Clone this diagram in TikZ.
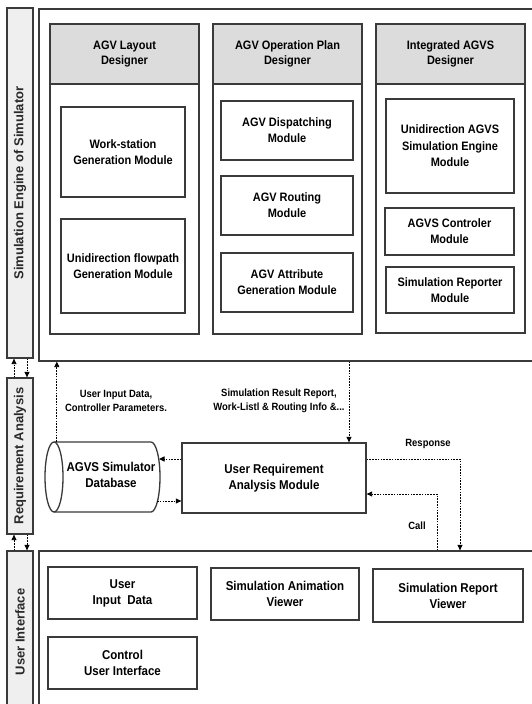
\documentclass[tikz,border=0pt]{standalone}
\usepackage{fontspec}
\setmainfont[FakeStretch=0.9]{Liberation Sans}
\newfontfamily\sidefont{Liberation Sans}
\usetikzlibrary{arrows.meta}
\definecolor{lc}{HTML}{3A3A3A}
\definecolor{barfill}{HTML}{EFEFEF}
\definecolor{headfill}{HTML}{DCDCDC}
\tikzset{
  ln/.style={draw=lc, line width=1.3pt},
  box/.style={ln, fill=white, rectangle, inner sep=0pt, align=center,
    font=\bfseries\fontsize{12.2}{16}\selectfont},
  bbox/.style={box, font=\bfseries\fontsize{12.8}{16}\selectfont},
  column/.style={ln, fill=white, rectangle, inner sep=0pt, minimum width=149, minimum height=310},
  header/.style={ln, fill=headfill, rectangle, inner sep=0pt, align=center,
    minimum width=149, minimum height=60, font=\bfseries\fontsize{12.2}{15.5}\selectfont},
  sidebar/.style={ln, fill=barfill, rectangle, inner sep=0pt, minimum width=26},
  sidetext/.style={rotate=90, font=\sidefont\bfseries\fontsize{13}{15}\selectfont, text=lc!70!black},
  frame/.style={ln, fill=white, rectangle, inner sep=0pt},
  darr/.style={draw=black, line width=0.9pt, dash pattern=on 1.6pt off 1.2pt,
    -{Triangle[length=5.5pt,width=5pt]}},
  lbl/.style={font=\bfseries\fontsize{10.5}{14}\selectfont, align=center, inner sep=0pt},
}
\begin{document}
\begin{tikzpicture}[x=1pt,y=-1pt]
\useasboundingbox (0,0) rectangle (532,704);
\clip (0,0) rectangle (532,704);
\fill[white] (0,0) rectangle (532,704);

% side bars
\node[sidebar, minimum height=350] (sb1) at (20,183) {};
\node[sidetext] (sb1t) at (sb1.center) {Simulation Engine of Simulator};
\node[sidebar, minimum height=156] (sb2) at (20,456) {};
\node[sidetext] (sb2t) at (sb2.center) {Requirement Analysis};
\node[sidebar, minimum height=160] (sb3) at (20,631) {};
\node[sidetext] (sb3t) at (20,632) {User Interface};

% frames
\node[frame, minimum width=501, minimum height=352] (top) at (289.5,185) {};
\node[frame, minimum width=501, minimum height=160] (bot) at (289.5,631) {};

% columns
\node[column] (c1) at (124.5,179) {};
\node[header] (h1) at (124.5,54) {AGV Layout\\Designer};
\node[column] (c2) at (287.5,179) {};
\node[header] (h2) at (287.5,54) {AGV Operation Plan\\Designer};
\node[column, minimum height=309] (c3) at (450.5,178.5) {};
\node[header] (h3) at (450.5,54) {Integrated AGVS\\Designer};

% modules
\node[box, minimum width=124, minimum height=90] (ws) at (123,152) {Work-station\\Generation Module};
\node[box, minimum width=124, minimum height=94] (uf) at (123,266) {Unidirection flowpath\\Generation Module};
\node[box, minimum width=132, minimum height=59] (disp) at (287,130.5) {AGV Dispatching\\Module};
\node[box, minimum width=132, minimum height=59] (rout) at (287,205.5) {AGV Routing\\Module};
\node[box, minimum width=132, minimum height=59] (attr) at (287,282.5) {AGV Attribute\\Generation Module};
\node[box, minimum width=128, minimum height=94, font=\bfseries\fontsize{12.2}{16.5}\selectfont] (eng) at (450,146) {Unidirection AGVS\\Simulation Engine\\Module};
\node[box, minimum width=129, minimum height=47] (ctrl) at (449.5,231.5) {AGVS Controler\\Module};
\node[box, minimum width=128, minimum height=46] (rep) at (450,290) {Simulation Reporter\\Module};

% middle
\draw[ln, fill=white] (54,442) -- (151,442) arc[start angle=90, end angle=-90, x radius=9pt, y radius=35pt] -- (54,512);
\draw[ln, fill=white] (54,477) ellipse [x radius=9pt, y radius=35pt];
\node[rectangle, minimum width=115, minimum height=70, inner sep=0pt] (db) at (102.5,477) {};
\node[font=\bfseries\fontsize{12.8}{16}\selectfont, align=center, inner sep=0pt] (dbt) at (111,475) {AGVS Simulator\\Database};
\node[bbox, minimum width=184, minimum height=70] (urm) at (274,478) {User Requirement\\Analysis Module};

% bottom modules
\node[bbox, minimum width=149, minimum height=52] (uid) at (122.5,593) {User\\Input\ \ Data};
\node[bbox, minimum width=148, minimum height=52] (sav) at (285,594) {Simulation Animation\\Viewer};
\node[bbox, minimum width=150, minimum height=53] (srv) at (448,595.5) {Simulation Report\\Viewer};
\node[bbox, minimum width=149, minimum height=52] (cui) at (122.5,663) {Control\\User Interface};

% arrows between side bars
\draw[darr] ([xshift=-6pt]sb2.north) -- ([xshift=-6pt]sb1.south);
\draw[darr] ([xshift=7pt]sb1.south) -- ([xshift=7pt]sb2.north);
\draw[darr] ([xshift=-6pt]sb3.north) -- ([xshift=-6pt]sb2.south);
\draw[darr] ([xshift=7pt]sb2.south) -- ([xshift=7pt]sb3.north);

% labels
\node[lbl] (l1) at (116,401) {User Input Data,\\Controller Parameters.};
\node[lbl] (l2) at (279,401) {Simulation Result Report,\\Work-Listl \& Routing Info \&...};
\node[lbl] (l3) at (428,444) {Response};
\node[lbl] (l4) at (417,526) {Call};

% middle arrows
\coordinate (dbtop) at ([xshift=12pt]db.north west);
\draw[darr] (dbtop) -- (dbtop |- top.south);
\coordinate (urmtop) at ([xshift=75pt]urm.north);
\draw[darr] (urmtop |- top.south) -- (urmtop);
\coordinate (dbr1) at (159,459);
\coordinate (dbr2) at (157,501);
\draw[darr] ([yshift=19pt]urm.west) -- (dbr1);
\draw[darr] (dbr2) -- (dbr2 -| urm.west);
\coordinate (resp) at (460,459);
\draw[darr] ([yshift=19pt]urm.east) -- (resp) -- (resp |- bot.north);
\coordinate (callc) at (437,494);
\draw[darr] (callc |- bot.north) -- (callc) -- (callc -| urm.east);
\end{tikzpicture}
\end{document}
